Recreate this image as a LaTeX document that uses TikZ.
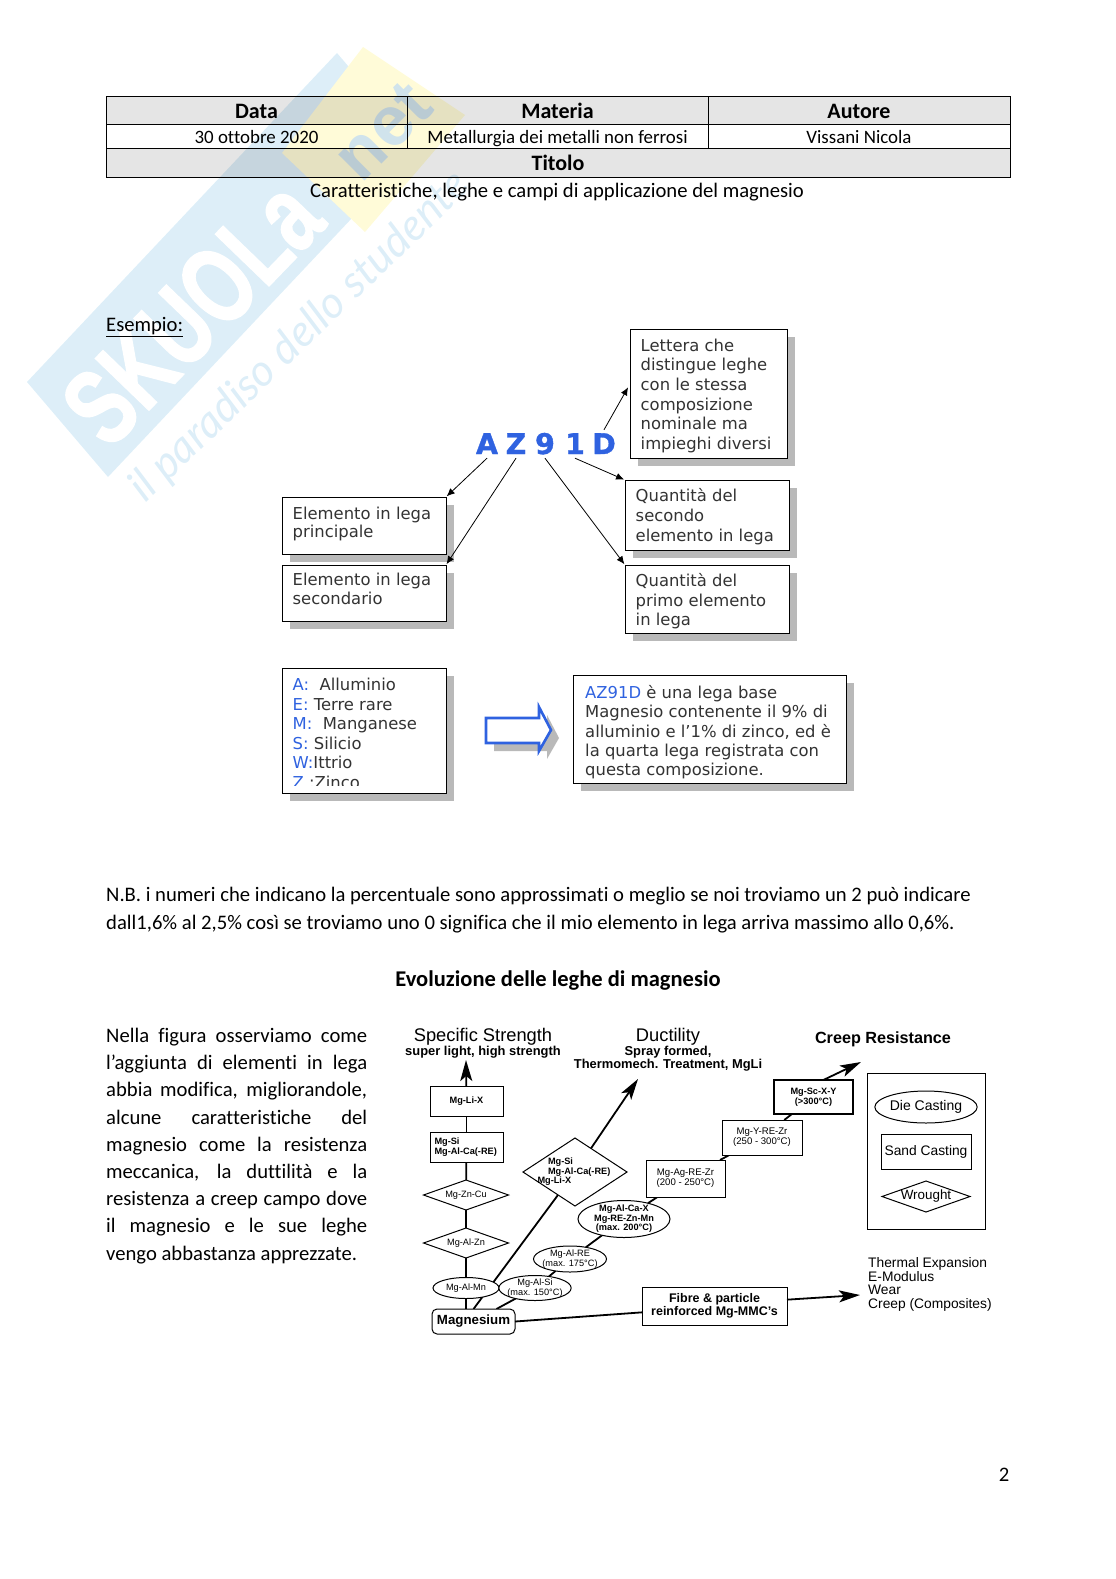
\documentclass[tikz,border=0pt]{standalone}
\usepackage{fontspec}
\setmainfont{Carlito}[Ligatures=NoCommon]
\newfontfamily\notefont{DejaVu Sans}[BoldFeatures={FakeBold=1.2}]
\newfontfamily\chartfont{Liberation Sans}
\newfontfamily\skuolafont{Liberation Sans}[BoldFeatures={FakeBold=1.5}]
\newfontfamily\markfont{Lato}
\usetikzlibrary{shapes.geometric,arrows.meta,shadows,backgrounds}
\definecolor{markblue}{HTML}{DDEEF8}
\definecolor{markyellow}{HTML}{FFFBD8}
\definecolor{marknet}{HTML}{D0E3EC}
\definecolor{noteblue}{HTML}{2F62E0}
\definecolor{notegray}{HTML}{333333}
\tikzset{
  headcell/.style={draw,line width=1pt,inner sep=0pt,outer sep=0pt,fill=black,fill opacity=0.1,text opacity=1,text height=16pt,text depth=0pt,font=\fontsize{22}{24}\selectfont\bfseries},
  datacell/.style={draw,line width=1pt,inner sep=0pt,outer sep=0pt,text height=14pt,text depth=0pt,font=\fontsize{18.9}{24}\selectfont},
  bodytext/.style={inner sep=0pt,font=\fontsize{20.65}{27.2}\selectfont},
  notebox/.style={draw=black,line width=1pt,fill=white,inner sep=0pt,outer sep=0pt,drop shadow={shadow xshift=8pt,shadow yshift=-8pt,fill=gray!55,opacity=1}},
  notetext/.style={anchor=north west,inner sep=0pt,align=left,text=notegray,font=\notefont\fontsize{16.4}{19.7}\selectfont},
  noteletter/.style={inner sep=4pt,text=noteblue,text height=20pt,text depth=0pt,font=\notefont\fontsize{28.5}{28.5}\selectfont\bfseries},
  notearrow/.style={line width=0.8pt,-{Latex[length=8pt,width=7pt]},shorten >=1pt},
  chartnode/.style={draw,line width=1pt,fill=white,inner sep=0pt,outer sep=0pt,align=center,font=\chartfont\fontsize{9.2}{10}\selectfont},
  chartbold/.style={font=\chartfont\fontsize{9.2}{9.6}\selectfont\bfseries},
  chartbox/.style={chartnode,rectangle},
  chartdiamond/.style={chartnode,diamond},
  chartellipse/.style={chartnode,ellipse},
  chartlabel/.style={inner sep=0pt,align=center,font=\chartfont\fontsize{18.3}{20}\selectfont},
  chartsub/.style={inner sep=0pt,align=center,font=\chartfont\fontsize{12.9}{13}\selectfont\bfseries},
  chartlink/.style={line width=1.8pt},
  chartarrow/.style={line width=1.8pt,-{Stealth[length=21pt,width=12pt,inset=5pt]}}
}
\begin{document}
\begin{tikzpicture}[x=1pt,y=-1pt]
  \useasboundingbox (0,0) rectangle (1116,1579);
  \fill[markblue] (27,382) -- (337,53) -- (418,148) -- (108,477) -- cycle;
  \fill[markyellow] (363,47) -- (465,115) -- (365,232) -- (282,153) -- cycle;
  \node[rotate=46,xscale=0.72,text=white,inner sep=0pt,font=\skuolafont\fontsize{108}{108}\selectfont\bfseries] (skuola) at (192,312) {SKUOLa};
  \node[rotate=45,text=marknet,inner sep=0pt,font=\chartfont\fontsize{70}{70}\selectfont\bfseries] (skuolanet) at (383,131) {net};
  \node[rotate=44,text=markblue,inner sep=0pt,font=\markfont\fontsize{44}{44}\selectfont\itshape] (motto) at (300,337) {il paradiso dello studente};

  \node[headcell,minimum width=301pt,minimum height=28pt] (celldata) at (256.5,110) {Data};
  \node[headcell,minimum width=301pt,minimum height=28pt] (cellmateria) at (557.5,110) {Materia};
  \node[headcell,minimum width=302pt,minimum height=28pt] (cellautore) at (859,110) {Autore};
  \node[datacell,minimum width=301pt,minimum height=24pt] (celldate) at (256.5,136) {30 ottobre 2020};
  \node[datacell,minimum width=301pt,minimum height=24pt] (cellsubject) at (557.5,136) {Metallurgia dei metalli non ferrosi};
  \node[datacell,minimum width=302pt,minimum height=24pt] (cellname) at (859,136) {Vissani Nicola};
  \node[headcell,minimum width=904pt,minimum height=29pt] (celltitolo) at (558,162.5) {Titolo};
  \node[bodytext] (subtitle) at (557,192) {Caratteristiche, leghe e campi di applicazione del magnesio};
  \node[bodytext,anchor=west] (esempio) at (106,327) {\underline{Esempio:}};

  \node[noteletter] (letA) at (487,444) {A};
  \node[noteletter] (letZ) at (516,444) {Z};
  \node[noteletter] (letN) at (545,444) {9};
  \node[noteletter] (letO) at (575,444) {1};
  \node[noteletter] (letD) at (604,444) {D};
  \node[notebox,minimum width=157pt,minimum height=129pt] (boxlet) at (708.5,393.5) {};
  \node[notetext] (txtlet) at (640.5,338.5) {Lettera che\\distingue leghe\\con le stessa\\composizione\\nominale ma\\impieghi diversi};
  \node[notebox,minimum width=164pt,minimum height=70pt] (boxsec) at (707,515) {};
  \node[notetext] (txtsec) at (635.5,488.5) {Quantità del\\secondo\\elemento in lega};
  \node[notebox,minimum width=164pt,minimum height=68pt] (boxpri) at (707,599) {};
  \node[notetext] (txtpri) at (635.5,573) {Quantità del\\primo elemento\\in lega};
  \node[notebox,minimum width=164pt,minimum height=57pt] (boxmain) at (364,525.5) {};
  \node[notetext,font=\notefont\fontsize{16.4}{18.7}\selectfont] (txtmain) at (292.5,506.5) {Elemento in lega\\principale};
  \node[notebox,minimum width=164pt,minimum height=56pt] (boxsub) at (364,593) {};
  \node[notetext,font=\notefont\fontsize{16.4}{18.7}\selectfont] (txtsub) at (292.5,573) {Elemento in lega\\secondario};
  \node[notebox,minimum width=164pt,minimum height=125pt] (boxleg) at (364,730.5) {};
  \begin{scope}
    \clip (283,669) rectangle (445,785.5);
    \node[notetext,font=\notefont\fontsize{16.4}{19.55}\selectfont] (txtleg) at (292.5,678) {\textcolor{noteblue}{A:}\ \ Alluminio\\\textcolor{noteblue}{E:}\ Terre rare\\\textcolor{noteblue}{M:}\ \ Manganese\\\textcolor{noteblue}{S:}\ Silicio\\\textcolor{noteblue}{W:}Ittrio\\\textcolor{noteblue}{Z} :Zinco};
  \end{scope}
  \node[notebox,minimum width=273pt,minimum height=108pt] (boxres) at (709.5,729) {};
  \node[notetext,font=\notefont\fontsize{16.4}{19.4}\selectfont] (txtres) at (585,685) {\textcolor{noteblue}{AZ91D} è una lega base\\Magnesio contenente il 9\% di\\alluminio e l’1\% di zinco, ed è\\la quarta lega registrata con\\questa composizione.};
  \fill[gray!55] (494,726) -- (547,726) -- (547,715) -- (559,738) -- (547,759) -- (547,751) -- (494,751) -- cycle;
  \draw[noteblue,line width=2.6pt,fill=white,line join=miter] (486,718) -- (539,718) -- (539,707) -- (551,730) -- (539,751) -- (539,743) -- (486,743) -- cycle;
  \draw[notearrow] (letA.south) -- (boxmain.north east);
  \draw[notearrow] (letZ.south) -- (boxsub.north east);
  \draw[notearrow] (letN.south) -- (boxpri.north west);
  \draw[notearrow] (letO.south) -- (boxsec.north west);
  \draw[notearrow,shorten >=4pt] (letD.north) -- (boxlet.173);

  \node[bodytext,anchor=west] (nbone) at (106,896) {N.B. i numeri che indicano la percentuale sono approssimati o meglio se noi troviamo un 2 può indicare};
  \node[bodytext,anchor=west] (nbtwo) at (106,924) {dall1,6\% al 2,5\% così se troviamo uno 0 significa che il mio elemento in lega arriva massimo allo 0,6\%.};
  \node[bodytext,font=\fontsize{22.5}{27.2}\selectfont\bfseries] (evoluzione) at (558,980) {Evoluzione delle leghe di magnesio};
  \node[bodytext,anchor=north west,text width=261pt,align=justify] (sidetext) at (106,1028) {Nella figura osserviamo come\linebreak l’aggiunta di elementi in lega\linebreak abbia modifica, migliorandole,\linebreak alcune caratteristiche del\linebreak magnesio come la resistenza\linebreak meccanica, la duttilità e la\linebreak resistenza a creep campo dove\linebreak il magnesio e le sue leghe\linebreak vengo abbastanza apprezzate.};
  \node[bodytext] (pagenum) at (1004,1475) {2};

  \node[chartlabel] (strength) at (483,1037) {Specific Strength};
  \node[chartsub] (strengthsub) at (483,1052) {super light, high strength};
  \node[chartlabel] (ductility) at (668,1037) {Ductility};
  \node[chartsub] (ductilitysub) at (668,1059) {Spray formed,\\Thermomech. Treatment, MgLi};
  \node[chartlabel,font=\chartfont\fontsize{16.2}{18}\selectfont\bfseries] (creep) at (883,1039) {Creep Resistance};
  \node[chartbox,minimum width=73pt,minimum height=30pt,chartbold] (mgli) at (466.5,1101) {Mg-Li-X};
  \node[chartbox,minimum width=73pt,minimum height=30pt,chartbold,text width=64pt,align=left] (mgsi) at (466.5,1147) {Mg-Si\\Mg-Al-Ca(-RE)};
  \node[chartdiamond,minimum width=85pt,minimum height=30pt,aspect=2.83] (mgzncu) at (466,1195) {Mg-Zn-Cu};
  \node[chartdiamond,minimum width=85pt,minimum height=30pt,aspect=2.83] (mgalzn) at (466,1243) {Mg-Al-Zn};
  \node[chartellipse,minimum width=66pt,minimum height=21pt] (mgalmn) at (466,1288) {Mg-Al-Mn};
  \node[chartellipse,minimum width=70pt,minimum height=25pt,inner sep=-2pt] (mgalsi) at (535,1288) {Mg-Al-Si\\(max. 150°C)};
  \node[chartellipse,minimum width=73pt,minimum height=26pt,inner sep=-2pt] (mgalre) at (570,1259) {Mg-Al-RE\\(max. 175°C)};
  \node[chartellipse,minimum width=92pt,minimum height=37pt,inner sep=-5pt,chartbold] (mgalca) at (624,1219) {Mg-Al-Ca-X\\Mg-RE-Zn-Mn\\(max. 200°C)};
  \node[chartdiamond,minimum width=104pt,minimum height=68pt,aspect=1.53,inner sep=-12pt,text width=75pt,align=left,chartbold] (mgbig) at (575,1172) {\leftskip=10.5pt Mg-Si\\Mg-Al-Ca(-RE)\\Mg-Li-X};
  \node[chartbox,minimum width=79pt,minimum height=37pt,font=\chartfont\fontsize{9.6}{10}\selectfont] (mgag) at (685.5,1178.5) {Mg-Ag-RE-Zr\\(200 - 250°C)};
  \node[chartbox,minimum width=80pt,minimum height=35pt,font=\chartfont\fontsize{9.6}{10}\selectfont] (mgy) at (762,1137.5) {Mg-Y-RE-Zr\\(250 - 300°C)};
  \node[chartbox,minimum width=79pt,minimum height=34pt,line width=1.3pt,chartbold] (mgsc) at (813.5,1097) {Mg-Sc-X-Y\\(>300°C)};
  \node[chartbox,minimum width=83pt,minimum height=25pt,rounded corners=5pt,font=\chartfont\fontsize{13.3}{14}\selectfont\bfseries] (magnesium) at (473.5,1321.5) {Magnesium};
  \node[chartbox,minimum width=145pt,minimum height=38pt,font=\chartfont\fontsize{12.5}{13}\selectfont\bfseries] (fibre) at (714.5,1306) {Fibre \& particle\\reinforced Mg-MMC’s};
  \node[chartbox,minimum width=118pt,minimum height=156pt] (legendframe) at (926,1151) {};
  \node[chartellipse,minimum width=90pt,minimum height=32pt,font=\chartfont\fontsize{14}{15}\selectfont] (diecast) at (926,1107) {Die Casting};
  \node[chartbox,minimum width=90pt,minimum height=35pt,font=\chartfont\fontsize{13.8}{15}\selectfont] (sandcast) at (926,1151.5) {Sand Casting};
  \node[chartdiamond,minimum width=88pt,minimum height=31pt,aspect=2.84,font=\chartfont\fontsize{13.4}{15}\selectfont] (wrought) at (926,1196.5) {Wrought};
  \node[inner sep=0pt,anchor=north west,align=left,font=\chartfont\fontsize{13.8}{13.8}\selectfont] (props) at (868,1257) {Thermal Expansion\\E-Modulus\\Wear\\Creep (Composites)};
  \coordinate (strengthtip) at (466,1060);
  \coordinate (ductilitytip) at (638,1079);
  \coordinate (creeptip) at (861,1062);
  \coordinate (propstip) at (860,1295);
  \begin{pgfonlayer}{background}
    \draw[chartlink] (mgalmn) -- (mgalmn |- magnesium.north);
    \draw[chartlink] (mgalmn) -- (mgalzn);
    \draw[chartlink] (mgalzn) -- (mgzncu);
    \draw[chartlink] (mgzncu) -- (mgsi);
    \draw[chartlink] (mgsi) -- (mgli);
    \draw[chartlink] (magnesium.north) -- (mgbig);
    \draw[chartlink] (magnesium) -- (mgalsi);
    \draw[chartlink] (mgalsi) -- (mgalre);
    \draw[chartlink] (mgalre) -- (mgalca);
    \draw[chartlink] (mgalca) -- (mgag);
    \draw[chartlink] (mgag) -- (mgy);
    \draw[chartlink] (mgy) -- (mgsc);
  \end{pgfonlayer}
  \draw[chartarrow] (mgli) -- (strengthtip);
  \draw[chartarrow] (mgbig) -- (ductilitytip);
  \draw[chartarrow] (mgsc.60) -- (creeptip);
  \draw[chartlink] (magnesium.east) -- (fibre.185);
  \draw[chartarrow] (fibre.5) -- (propstip);
\end{tikzpicture}
\end{document}
